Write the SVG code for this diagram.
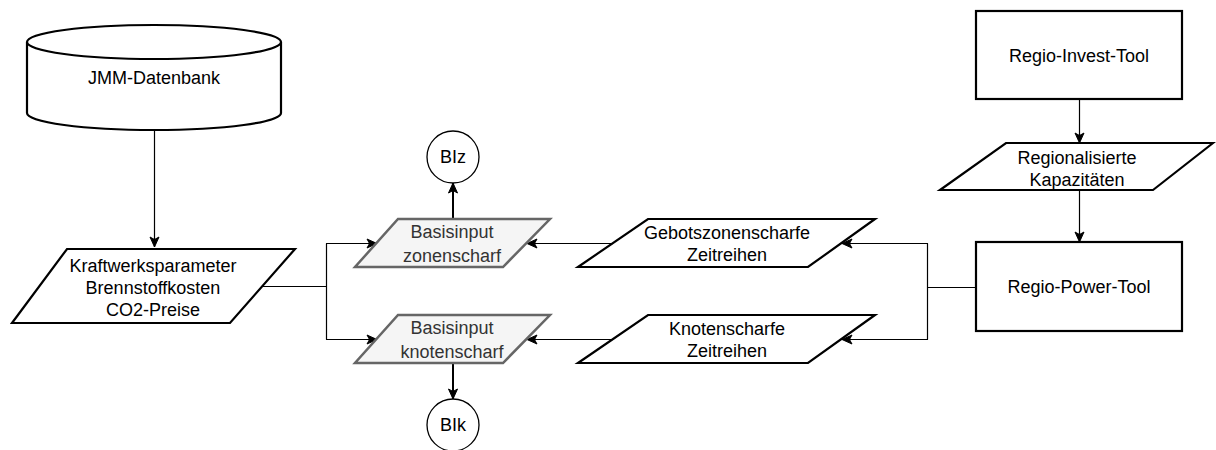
<svg xmlns="http://www.w3.org/2000/svg" width="1216" height="450" viewBox="0 0 1216 450">
  <defs>
    <marker id="arr" markerUnits="userSpaceOnUse" markerWidth="12" markerHeight="12" viewBox="0 0 12 12" refX="11" refY="6" orient="auto">
      <path d="M1,1.5 L11,6 L1,10.5 L3.5,6 Z" fill="#000" stroke="#000" stroke-width="1"/>
    </marker>
  </defs>
  <style>
    .node { fill: #fff; stroke: #000; stroke-width: 2.2; }
    .grey { fill: #f5f5f5; stroke: #666; stroke-width: 2.5; }
    .circ { fill: #fff; stroke: #000; stroke-width: 1.3; }
    text { font-family: "Liberation Sans", Arial, sans-serif; font-size: 18px; fill: #000; text-anchor: middle; }
    .gt { fill: #333; }
    .edge { fill: none; stroke: #000; stroke-width: 1.2; }
    .edge2 { fill: none; stroke: #000; stroke-width: 2; }
  </style>
  <rect width="1216" height="450" fill="#fff"/>

  <g id="connectors">
    <path class="edge" d="M154.5,130 L154.5,247" marker-end="url(#arr)"/>
    <path class="edge" d="M262,286.5 L326.5,286.5"/>
    <path class="edge" d="M326.5,243.5 L326.5,339.5"/>
    <path class="edge" d="M326,243.5 L377,243.5" marker-end="url(#arr)"/>
    <path class="edge" d="M326,339.5 L377,339.5" marker-end="url(#arr)"/>
    <path class="edge2" d="M453,219 L453,183" marker-end="url(#arr)"/>
    <path class="edge2" d="M453,363 L453,399" marker-end="url(#arr)"/>
    <path class="edge" d="M613,243.5 L527,243.5" marker-end="url(#arr)"/>
    <path class="edge" d="M613,339.5 L527,339.5" marker-end="url(#arr)"/>
    <path class="edge" d="M976,287.5 L927.5,287.5"/>
    <path class="edge" d="M927.5,243.5 L927.5,339.5"/>
    <path class="edge" d="M928,243.5 L842,243.5" marker-end="url(#arr)"/>
    <path class="edge" d="M928,339.5 L842,339.5" marker-end="url(#arr)"/>
    <path class="edge" d="M1079.5,99 L1079.5,143" marker-end="url(#arr)"/>
    <path class="edge" d="M1079.5,190 L1079.5,242" marker-end="url(#arr)"/>
  </g>

  <g id="jmm">
    <path class="node" d="M27,42 A127,17 0 0 1 281,42 L281,113 A127,17 0 0 1 27,113 Z"/>
    <path class="node" fill="none" d="M27,42 A127,17 0 0 0 281,42"/>
    <text x="154" y="84">JMM-Datenbank</text>
  </g>

  <g id="kraftwerk">
    <polygon class="node" points="67,249 295,249 230,323 12,323"/>
    <text x="153" y="272">Kraftwerksparameter</text>
    <text x="153" y="294">Brennstoffkosten</text>
    <text x="153" y="316">CO2-Preise</text>
  </g>

  <g id="basis-zonen">
    <polygon class="grey" points="398,219 550,219 503,267 355,267"/>
    <text class="gt" x="452" y="238">Basisinput</text>
    <text class="gt" x="452" y="262">zonenscharf</text>
  </g>

  <g id="basis-knoten">
    <polygon class="grey" points="398,315 550,315 503,363 355,363"/>
    <text class="gt" x="452" y="334">Basisinput</text>
    <text class="gt" x="452" y="358">knotenscharf</text>
  </g>

  <g id="biz">
    <circle class="circ" cx="453" cy="157" r="26"/>
    <text x="453" y="163">BIz</text>
  </g>

  <g id="bik">
    <circle class="circ" cx="453" cy="425" r="26"/>
    <text x="453" y="431">BIk</text>
  </g>

  <g id="gebotszonen">
    <polygon class="node" points="648,219 875,219 808,267 578,267"/>
    <text x="727" y="239">Gebotszonenscharfe</text>
    <text x="727" y="261">Zeitreihen</text>
  </g>

  <g id="knoten">
    <polygon class="node" points="648,315 875,315 808,363 578,363"/>
    <text x="727" y="335">Knotenscharfe</text>
    <text x="727" y="357">Zeitreihen</text>
  </g>

  <g id="regio-invest">
    <rect class="node" x="976" y="11" width="206" height="88"/>
    <text x="1079" y="62">Regio-Invest-Tool</text>
  </g>

  <g id="regionalisiert">
    <polygon class="node" points="1006,143 1213,143 1153,190 940,190"/>
    <text x="1077" y="164">Regionalisierte</text>
    <text x="1077" y="186">Kapazitäten</text>
  </g>

  <g id="regio-power">
    <rect class="node" x="976" y="242" width="206" height="89"/>
    <text x="1079" y="293">Regio-Power-Tool</text>
  </g>
</svg>
